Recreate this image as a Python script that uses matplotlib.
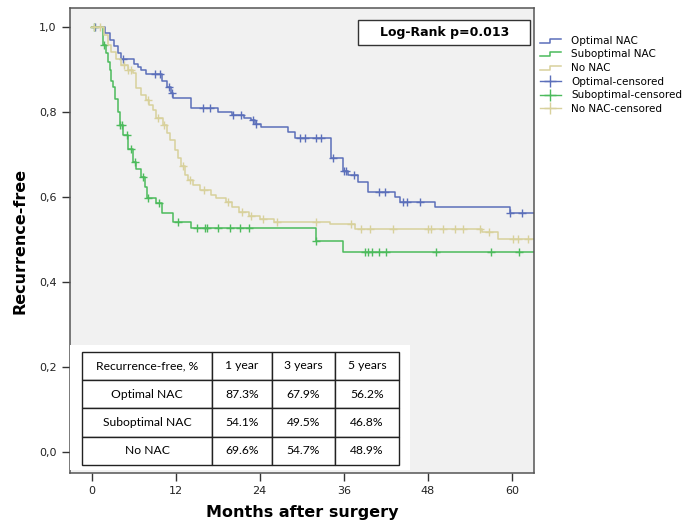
import numpy as np
import matplotlib
matplotlib.use("Agg")
import matplotlib.pyplot as plt
from matplotlib.lines import Line2D
from matplotlib.patches import Rectangle
from matplotlib.legend_handler import HandlerBase

# Kaplan-Meier steps (month, survival after step)
opt_t = [0, 1.9, 2.6, 3.2, 3.8, 4.2, 6.1, 6.6, 7.1, 7.8, 10.0, 10.7, 11.3, 11.6, 14.2, 18.0,
         20.0, 21.8, 22.8, 23.3, 24.2, 28.0, 29.0, 34.2, 35.9, 36.6, 38.0, 39.4, 43.3, 44.0,
         49.0, 59.7]
opt_s = [1.0, 0.985, 0.97, 0.955, 0.94, 0.926, 0.914, 0.905, 0.898, 0.89, 0.872, 0.858,
         0.844, 0.832, 0.809, 0.80, 0.793, 0.786, 0.781, 0.772, 0.765, 0.754, 0.738, 0.691,
         0.66, 0.652, 0.636, 0.612, 0.60, 0.589, 0.577, 0.562]
opt_cens = [0.5, 4.5, 9.0, 9.8, 11.0, 11.5, 15.9, 16.9, 20.2, 21.4, 23.0, 23.4, 29.7, 30.5,
            32.0, 32.7, 34.4, 36.1, 36.3, 37.5, 41.1, 41.9, 44.5, 45.0, 46.9, 59.8, 61.5]

sub_t = [0, 1.6, 2.0, 2.3, 2.6, 2.8, 3.1, 3.4, 3.7, 4.0, 4.5, 5.2, 5.9, 6.4, 7.0, 7.6, 7.9,
         9.2, 10.0, 11.6, 14.2, 32.0, 35.9]
sub_s = [1.0, 0.957, 0.94, 0.918, 0.9, 0.872, 0.86, 0.83, 0.80, 0.769, 0.746, 0.714, 0.683,
         0.667, 0.648, 0.624, 0.597, 0.585, 0.562, 0.542, 0.526, 0.497, 0.47]
sub_cens = [0.4, 1.8, 4.1, 4.4, 5.0, 5.6, 6.2, 7.4, 8.0, 9.6, 12.3, 15.0, 16.2, 16.5, 18.0,
            19.8, 21.2, 22.5, 32.0, 39.0, 39.5, 40.1, 41.1, 42.0, 49.2, 57.0, 61.0]

no_t = [0, 1.8, 2.3, 2.8, 3.5, 4.2, 5.2, 5.9, 6.4, 7.1, 7.8, 8.2, 8.7, 9.2, 10.2, 10.7,
        11.2, 11.9, 12.3, 12.8, 13.3, 13.8, 14.5, 15.5, 17.0, 17.8, 19.2, 20.0, 21.0, 22.5,
        24.0, 26.0, 34.0, 37.6, 55.7, 58.0]
no_s = [1.0, 0.981, 0.958, 0.942, 0.926, 0.91, 0.899, 0.891, 0.856, 0.84, 0.828, 0.816,
        0.805, 0.785, 0.769, 0.75, 0.734, 0.711, 0.691, 0.672, 0.652, 0.64, 0.628, 0.616,
        0.605, 0.597, 0.588, 0.577, 0.565, 0.555, 0.548, 0.542, 0.536, 0.525, 0.517, 0.501]
no_cens = [0.4, 1.2, 4.6, 5.2, 5.6, 8.0, 9.5, 10.4, 13.0, 14.0, 16.0, 19.5, 21.5, 22.8, 24.5,
           26.5, 32.1, 37.0, 38.5, 39.7, 43.0, 48.0, 48.5, 50.2, 51.9, 53.0, 55.4, 56.7,
           60.2, 60.9, 62.3]

end_month = 64

group_names = ["Optimal NAC", "Suboptimal NAC", "No NAC"]
cens_names = ["Optimal-censored", "Suboptimal-censored", "No NAC-censored"]
colors = ["#5b6fba", "#4cbb5c", "#d8d19c"]

table_cols = ["Recurrence-free, %", "1 year", "3 years", "5 years"]
table_rows = [["Optimal NAC", "87.3%", "67.9%", "56.2%"],
              ["Suboptimal NAC", "54.1%", "49.5%", "46.8%"],
              ["No NAC", "69.6%", "54.7%", "48.9%"]]


class StepHandler(HandlerBase):
    def create_artists(self, legend, orig_handle, xdescent, ydescent, width, height,
                       fontsize, trans):
        x0 = -xdescent
        xm = x0 + width * 0.5
        y0 = -ydescent + height * 0.15
        y1 = -ydescent + height * 0.7
        ln = Line2D([x0, xm, xm, x0 + width], [y0, y0, y1, y1],
                    color=orig_handle.get_color(), lw=orig_handle.get_linewidth())
        ln.set_transform(trans)
        return [ln]


fig = plt.figure(figsize=(6.85, 5.26), dpi=100)
ax = fig.add_axes([0.102, 0.1008, 0.678, 0.884])
ax.set_facecolor("#f1f1f1")

step_handles = []
cens_handles = []
for t, s, c, col, nm, cn in zip([opt_t, sub_t, no_t], [opt_s, sub_s, no_s],
                                [opt_cens, sub_cens, no_cens], colors, group_names, cens_names):
    tt = list(t) + [end_month]
    ss = list(s) + [s[-1]]
    h, = ax.step(tt, ss, where="post", color=col, lw=1.1, label=nm)
    idx = np.searchsorted(t, c, side="right") - 1
    ax.plot(c, np.array(s)[idx], ls="none", marker="+", ms=6, mew=1.0, color=col)
    step_handles.append(h)
    cens_handles.append(Line2D([], [], ls="-", lw=1.0, marker="+", ms=8, mew=1.0,
                               color=col, label=cn))

ax.set_xlim(-3.1, 63.2)
ax.set_ylim(-0.05, 1.045)
ax.set_xticks([0, 12, 24, 36, 48, 60])
ax.set_yticks([0, 0.2, 0.4, 0.6, 0.8, 1.0])
ax.set_yticklabels([f"{v:.1f}".replace(".", ",") for v in [0, 0.2, 0.4, 0.6, 0.8, 1.0]])
ax.tick_params(direction="out", length=6, width=1, labelsize=8, color="#333333",
               labelcolor="#222222")
for sp in ax.spines.values():
    sp.set_color("#555555")
    sp.set_linewidth(1.1)

ax.set_xlabel("Months after surgery", fontsize=11.5, fontweight="bold", labelpad=6)
ax.set_ylabel("Recurrence-free", fontsize=11.5, fontweight="bold", labelpad=8)

# Log-rank box
ax.add_patch(Rectangle((0.621, 0.920), 0.369, 0.054, transform=ax.transAxes,
                       facecolor="white", edgecolor="#333333", lw=1.0, zorder=4))
ax.text(0.806, 0.947, "Log-Rank p=0.013", transform=ax.transAxes, ha="center",
        va="center", fontsize=9, fontweight="bold", zorder=5)

# white panel behind the table
ax.add_patch(Rectangle((0.0, 0.006), 0.733, 0.269, transform=ax.transAxes,
                       facecolor="white", edgecolor="none", zorder=3))
tbl = ax.table(cellText=table_rows, colLabels=table_cols, cellLoc="center",
               colWidths=[0.408, 0.19, 0.2, 0.202], bbox=[0.027, 0.017, 0.682, 0.244],
               zorder=4)
tbl.auto_set_font_size(False)
for (r, cidx), cell in tbl.get_celld().items():
    cell.set_edgecolor("#222222")
    cell.set_linewidth(1.0)
    cell.set_facecolor("white")
    cell.get_text().set_fontsize(8.7)
    cell.get_text().set_fontfamily("Lato")

leg = ax.legend(handles=step_handles + cens_handles,
                handler_map={h: StepHandler() for h in step_handles},
                loc="upper left", bbox_to_anchor=(0.782, 0.94),
                bbox_transform=fig.transFigure, frameon=False, fontsize=7.5,
                handlelength=2.0, handletextpad=1.0, labelspacing=0.35, borderaxespad=0)

fig.savefig("out.png", dpi=100)
